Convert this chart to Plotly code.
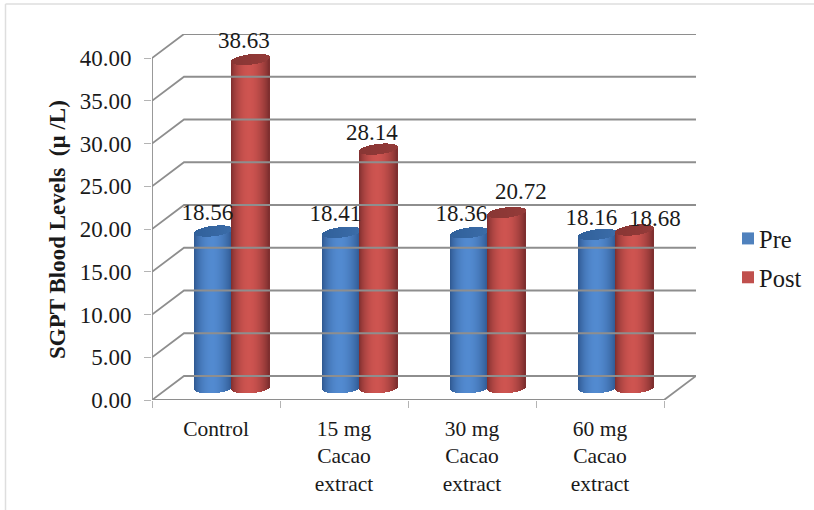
import math
import plotly.graph_objects as go

categories = ["Control", "15 mg<br>Cacao<br>extract", "30 mg<br>Cacao<br>extract", "60 mg<br>Cacao<br>extract"]
pre_values = [18.56, 18.41, 18.36, 18.16]
post_values = [38.63, 28.14, 20.72, 18.68]
pre_labels = ["18.56", "18.41", "18.36", "18.16"]
post_labels = ["38.63", "28.14", "20.72", "18.68"]
y_ticks = [0, 5, 10, 15, 20, 25, 30, 35, 40]
y_tick_labels = ["0.00", "5.00", "10.00", "15.00", "20.00", "25.00", "30.00", "35.00", "40.00"]

# label nudges in pixels (right, up) from the top of each cylinder
pre_label_nudge = [(-6, 17), (-6, 17), (-8, 17), (-6, 15)]
post_label_nudge = [(-7, 17), (-7, 15), (14, 19), (20, 10)]

W, H = 814, 510
L, R, T, B = 152, 696, 34, 400
PX_X = 128.0          # pixels per category
PX_Y = 8.55           # pixels per value unit
FONT = "Liberation Serif"
FS = 23
INK = "#1a1a1a"
GRID = "#8e8e8e"

DX = 32 / PX_X        # depth of the floor in axis units
DY = 24 / PX_Y
BAR_W = 37.5 / PX_X   # cylinder diameter
GROUP_OFF = 42.5 / PX_X # left edge of first cylinder inside a category
CAP = 5.2 / PX_Y      # half height of an ellipse
TILT = 2.2 / PX_Y     # ellipse skew
TOP_DROP = 1.7 / PX_Y
STRIP = 1.0 / PX_X


def mix(a, b, k):
    return tuple(a[i] + (b[i] - a[i]) * k for i in range(3))


def shade(dark, light, t):
    # t in [-1, 1] across the cylinder
    u = (t + 1) / 2
    k = math.sin(math.pi * min(1, max(0, u)) ** 0.95) ** 0.75
    if t > 0:
        k *= 0.9 + 0.1 * (1 - t)
    c = mix(dark, light, k)
    return "rgb(%d,%d,%d)" % tuple(round(v) for v in c)


def cylinders(values, first_left, dark, light, cap_dark, cap_light, name):
    xs, bases, heights, colors = [], [], [], []
    cx, cb, ch, cc = [], [], [], []
    n = int(round(BAR_W / STRIP))
    for i, v in enumerate(values):
        left = i + first_left
        for s in range(n):
            t = -1 + 2 * (s + 0.5) / n
            xc = left + (s + 0.5) * STRIP
            arc = math.sqrt(max(0, 1 - t * t)) * CAP
            skew = t * TILT
            y0 = DY / 2 - arc + skew * 0.6
            top = v + DY / 2 + skew - TOP_DROP
            xs.append(xc)
            bases.append(y0)
            heights.append(top - arc - y0)
            colors.append(shade(dark, light, t))
            cx.append(xc)
            cb.append(top - arc)
            ch.append(2 * arc)
            cc.append("rgb(%d,%d,%d)" % tuple(round(q) for q in mix(cap_dark, cap_light, (t + 1) / 2 * 0.6)))
    body = go.Bar(x=xs, y=heights, base=bases, width=STRIP * 1.15, marker=dict(color=colors, line=dict(width=0)),
                  showlegend=False, hoverinfo="skip", name=name)
    cap = go.Bar(x=cx, y=ch, base=cb, width=STRIP * 1.15, marker=dict(color=cc, line=dict(width=0)),
                 showlegend=False, hoverinfo="skip", name=name)
    return [body, cap]


fig = go.Figure()

# walls: gridlines run from the front edge to the back wall and along it
for v in y_ticks:
    back_end = 4 + DX
    if v == 0:
        xl, yl = [0, 4, back_end, DX, 0], [0, 0, DY, DY, 0]
    else:
        xl, yl = [0, DX, back_end], [v, v + DY, v + DY]
    fig.add_trace(go.Scatter(x=xl, y=yl, mode="lines", line=dict(color=GRID, width=1.8),
                             showlegend=False, hoverinfo="skip", cliponaxis=False))
fig.add_trace(go.Scatter(x=[0, 0], y=[0, 40], mode="lines", line=dict(color=GRID, width=1.8),
                         showlegend=False, hoverinfo="skip", cliponaxis=False))

BLUE_D, BLUE_L = (44, 84, 140), (82, 138, 208)
RED_D, RED_L = (120, 44, 44), (206, 84, 80)
for tr in cylinders(pre_values, GROUP_OFF, BLUE_D, BLUE_L, (48, 96, 154), (66, 116, 178), "Pre"):
    fig.add_trace(tr)
for tr in cylinders(post_values, GROUP_OFF + BAR_W, RED_D, RED_L, (136, 54, 52), (156, 62, 60), "Post"):
    fig.add_trace(tr)

# data labels
for vals, labs, first, nudge in ((pre_values, pre_labels, GROUP_OFF, pre_label_nudge),
                                 (post_values, post_labels, GROUP_OFF + BAR_W, post_label_nudge)):
    fig.add_trace(go.Scatter(
        x=[i + first + BAR_W / 2 + nudge[i][0] / PX_X for i in range(4)],
        y=[v + DY / 2 - TOP_DROP + nudge[i][1] / PX_Y for i, v in enumerate(vals)],
        text=labs, mode="text", textposition="middle center",
        textfont=dict(family=FONT, size=FS, color=INK),
        showlegend=False, hoverinfo="skip", cliponaxis=False))

# legend
for name, col, grp in (("Pre", "#4f81bd", "a"), ("Post", "#c0504d", "b")):
    fig.add_trace(go.Scatter(x=[None], y=[None], mode="markers", name=name, legendgroup=grp,
                             marker=dict(symbol="square", size=12, color=col)))

# faint page frame, in pixels converted to paper units
def px(x): return (x - L) / (R - L)
def py(y): return (B - y) / (B - T)

fig.add_shape(type="line", xref="paper", yref="paper", x0=px(5.5), x1=px(5.5), y0=py(510), y1=py(4),
              line=dict(color="#dedede", width=1.5))
fig.add_shape(type="line", xref="paper", yref="paper", x0=px(5.5), x1=px(814), y0=py(4), y1=py(4),
              line=dict(color="#dedede", width=1.5))

fig.add_annotation(text="<b>SGPT Blood Levels  (µ /L)</b>", textangle=-90, showarrow=False,
                   xref="paper", yref="paper", x=px(58), y=py(230), xanchor="center", yanchor="middle",
                   font=dict(family=FONT, size=23, color=INK))

fig.update_layout(
    width=W, height=H,
    margin=dict(l=L, r=W - R, t=T, b=H - B, pad=0, autoexpand=False),
    paper_bgcolor="white", plot_bgcolor="white",
    barmode="overlay", bargap=0,
    font=dict(family=FONT, size=FS, color=INK),
    legend=dict(x=px(728), y=py(216), xanchor="left", yanchor="top", traceorder="grouped",
                tracegroupgap=4, font=dict(size=24.5), itemsizing="constant", indentation=-9,
                bgcolor="rgba(0,0,0,0)"),
    xaxis=dict(range=[0, (R - L) / PX_X], showgrid=False, zeroline=False, showline=False,
               tickmode="array", tickvals=[0.5, 1.5, 2.5, 3.5], ticktext=categories,
               ticks="", ticklen=0, tickangle=0, ticklabelstandoff=13,
               tickfont=dict(family=FONT, size=21.5, color=INK),
               minor=dict(tickmode="array", tickvals=[0, 1, 2, 3, 4], ticks="outside", ticklen=7,
                          tickwidth=1, tickcolor="#b4b4b4", showgrid=False)),
    yaxis=dict(range=[0, (B - T) / PX_Y], showgrid=False, zeroline=False, showline=False,
               tickmode="array", tickvals=y_ticks, ticktext=y_tick_labels, ticks="outside",
               ticklen=7, tickwidth=1, tickcolor="#b4b4b4", ticklabelstandoff=8,
               tickfont=dict(family=FONT, size=FS, color=INK)),
)

# nudge the legend swatches towards their text, as in the reference
post_script = """
document.body.style.margin='0';
var gd=document.getElementById('{plot_id}');
function nudge(){document.querySelectorAll('.legend .legendsymbols').forEach(function(g){g.setAttribute('transform','translate(9,0)');});}
nudge(); if(gd.on){gd.on('plotly_afterplot',nudge);}
"""
fig.write_html("out.html", post_script=post_script, config={"displayModeBar": False})
